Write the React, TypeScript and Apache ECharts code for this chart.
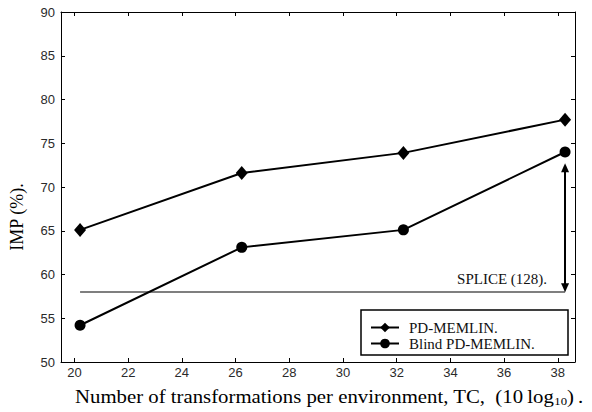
import React, { useEffect, useRef } from "react";
import * as echarts from "echarts";

const xTicks = [20, 22, 24, 26, 28, 30, 32, 34, 36, 38];
const yTicks = [50, 55, 60, 65, 70, 75, 80, 85, 90];
const tc = [20.21, 26.23, 32.25, 38.27];
const pdMemlin = [65.1, 71.6, 73.9, 77.7];
const blindPdMemlin = [54.2, 63.1, 65.1, 74.0];
const spliceLevel = 58;
const arrowTop = 72.7;
const seriesNames = ["PD-MEMLIN.", "Blind PD-MEMLIN."];
const spliceLabel = "SPLICE (128).";

const SERIF = "'Liberation Serif', 'Times New Roman', serif";
const SANS = "'Liberation Sans', Arial, sans-serif";

export default function App() {
  const ref = useRef<HTMLDivElement>(null);
  useEffect(() => {
    if (!ref.current) return;
    const chart = echarts.init(ref.current, undefined, { renderer: "svg" });
    const axisLine = { show: true, lineStyle: { color: "#000", width: 1 } };
    const xAxisBase = {
      type: "value",
      min: 19.5,
      max: 38.64,
      axisLine,
      splitLine: { show: false },
      axisTick: { show: true, inside: true, length: 4, customValues: xTicks, lineStyle: { color: "#000" } },
    };
    const yAxisBase = {
      type: "value",
      min: yTicks[0],
      max: yTicks[yTicks.length - 1],
      interval: 5,
      axisLine,
      splitLine: { show: false },
      axisTick: { show: true, inside: true, length: 4, lineStyle: { color: "#000" } },
    };
    chart.setOption({
      animation: false,
      backgroundColor: "#fff",
      grid: { left: 61, top: 12, right: 17, bottom: 50, containLabel: false },
      xAxis: [
        {
          ...xAxisBase,
          position: "bottom",
          axisLabel: { customValues: xTicks, margin: 4, fontFamily: SANS, fontSize: 13, color: "#2a2a2a" },
        },
        { ...xAxisBase, position: "top", axisLabel: { show: false } },
      ],
      yAxis: [
        {
          ...yAxisBase,
          position: "left",
          axisLabel: { margin: 6, fontFamily: SANS, fontSize: 13, color: "#2a2a2a" },
        },
        { ...yAxisBase, position: "right", axisLabel: { show: false } },
      ],
      legend: {
        data: seriesNames,
        orient: "vertical",
        left: 365,
        top: 315,
        itemWidth: 28,
        itemHeight: 12,
        itemGap: 1,
        selectedMode: false,
        textStyle: { fontFamily: SERIF, fontSize: 15, color: "#111", padding: [0, 0, 0, 5] },
      },
      series: [
        {
          name: seriesNames[0],
          type: "line",
          data: tc.map((x, i) => [x, pdMemlin[i]]),
          symbol: "diamond",
          symbolSize: [12, 14],
          itemStyle: { color: "#000" },
          lineStyle: { color: "#000", width: 2 },
          z: 5,
        },
        {
          name: seriesNames[1],
          type: "line",
          data: tc.map((x, i) => [x, blindPdMemlin[i]]),
          symbol: "circle",
          symbolSize: 11,
          itemStyle: { color: "#000" },
          lineStyle: { color: "#000", width: 2 },
          z: 5,
        },
        {
          name: spliceLabel,
          type: "line",
          data: [
            [tc[0], spliceLevel],
            [tc[tc.length - 1], spliceLevel],
          ],
          showSymbol: false,
          symbol: "none",
          lineStyle: { color: "#000", width: 1.2 },
          silent: true,
          markLine: {
            silent: true,
            symbol: ["triangle", "triangle"],
            symbolSize: [8, 9],
            label: { show: false },
            lineStyle: { color: "#000", width: 2, type: "solid" },
            itemStyle: { color: "#000" },
            data: [
              [
                { coord: [tc[tc.length - 1], spliceLevel + 0.5] },
                { coord: [tc[tc.length - 1], arrowTop - 0.5] },
              ],
            ],
          },
        },
      ],
    });
    const p = chart.convertToPixel({ xAxisIndex: 0, yAxisIndex: 0 }, [tc[tc.length - 1], spliceLevel]) as number[];
    chart.setOption({
      graphic: [
        {
          type: "rect",
          z: 3,
          shape: { x: 361, y: 310, width: 207, height: 45 },
          style: { fill: "#fff", stroke: "#000", lineWidth: 1.5 },
        },
        {
          type: "text",
          z: 6,
          x: p[0] - 18,
          y: p[1] - 13,
          style: {
            text: spliceLabel,
            fontFamily: SERIF,
            fontSize: 15,
            fill: "#111",
            align: "right",
            verticalAlign: "middle",
          },
        },
        {
          type: "text",
          z: 6,
          x: 17,
          y: 217,
          rotation: Math.PI / 2,
          style: {
            text: "IMP (%).",
            fontFamily: SERIF,
            fontSize: 18,
            fill: "#000",
            align: "center",
            verticalAlign: "middle",
          },
        },
        {
          type: "text",
          z: 6,
          x: 75,
          y: 397,
          scaleX: 1.155,
          style: {
            text: "{a|Number of transformations per environment, TC,  (10\u2009log}{s|10}{a|)\u2009.}",
            fontFamily: SERIF,
            fontSize: 18,
            fill: "#000",
            align: "left",
            verticalAlign: "middle",
            rich: {
              a: { fontFamily: SERIF, fontSize: 18, fill: "#000", lineHeight: 20 },
              s: { fontFamily: SERIF, fontSize: 11, fill: "#000", verticalAlign: "bottom", lineHeight: 12 },
            },
          },
        },
      ],
    });
    return () => chart.dispose();
  }, []);
  return <div ref={ref} style={{ position: "absolute", left: 0, top: 0, width: 592, height: 412 }} />;
}
